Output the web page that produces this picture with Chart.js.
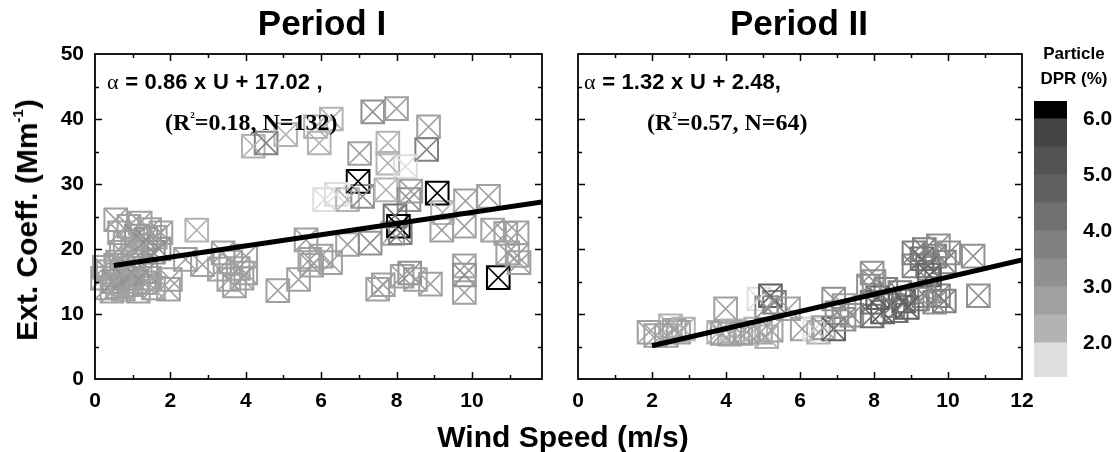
<!DOCTYPE html>
<html><head><meta charset="utf-8">
<script src="https://cdn.jsdelivr.net/npm/chart.js@4.4.0/dist/chart.umd.min.js"></script>
<style>
body{margin:0;background:#fff;}
#wrap{position:relative;width:1117px;height:452px;overflow:hidden;font-family:'Liberation Sans',Arial,sans-serif;color:#000;background:#fff}
.box{position:absolute}
.t{position:absolute;white-space:nowrap;font-weight:bold;line-height:1}
.c{transform:translate(-50%,-50%)}
.l{transform:translate(0,-50%)}
.serif{font-family:'Liberation Serif','Times New Roman',serif}
sup{font-size:9px;vertical-align:top;position:relative;top:1px}
</style></head><body><div id="wrap">
<div class="box" style="left:0;top:0;width:560px;height:452px"><canvas id="p1"></canvas></div>
<div class="box" style="left:560px;top:0;width:480px;height:452px"><canvas id="p2"></canvas></div>
<div class="box" style="left:1020px;top:0;width:97px;height:452px"><canvas id="cb"></canvas></div>

<div class="t c" style="left:322px;top:22px;font-size:35px">Period I</div>
<div class="t c" style="left:799px;top:22px;font-size:35px">Period II</div>
<div class="t" style="left:27px;top:220px;font-size:30px;transform:translate(-50%,-50%) rotate(-90deg)">Ext. Coeff. (Mm<sup style="font-size:15px;top:-2px">-1</sup>)</div>
<div class="t c" style="left:563px;top:437px;font-size:30px">Wind Speed (m/s)</div>

<div class="t l" style="left:107px;top:82px;font-size:22px;word-spacing:0.5px"><span class="serif" style="font-weight:normal">α</span> = 0.86 x U + 17.02 ,</div>
<div class="t l serif" style="left:165px;top:122px;font-size:24px">(R<sup>2</sup>=0.18, N=132)</div>
<div class="t l" style="left:584px;top:82px;font-size:22px;word-spacing:0.5px"><span class="serif" style="font-weight:normal">α</span> = 1.32 x U + 2.48,</div>
<div class="t l serif" style="left:647px;top:122px;font-size:24px">(R<sup>2</sup>=0.57, N=64)</div>

<div class="t c" style="left:1074px;top:53px;font-size:17px">Particle</div>
<div class="t c" style="left:1074px;top:78px;font-size:17px">DPR (%)</div>
</div>
<script>
// ---------- data ----------
const windI = [0.2,0.3,0.35,0.45,0.5,0.55,0.6,0.7,0.75,0.8,0.9,0.95,1.0,1.1,1.15,1.2,1.3,1.35,1.45,1.55,0.25,0.6,
  0.55,0.65,0.8,0.9,1.0,1.1,1.2,1.25,1.35,1.45,1.55,1.6,1.7,1.75,0.7,1.05,
  2.0,1.95,2.4,2.7,2.85,3.3,3.4,3.55,3.7,3.8,3.9,4.0,4.0,3.6,
  4.85,5.4,5.6,5.7,5.75,6.0,6.25,6.7,7.3,7.5,7.65,7.9,8.15,8.35,8.5,8.9,9.2,9.8,9.8,9.8,10.55,10.9,10.7,10.95,11.25,11.2,
  4.2,4.54,5.06,5.85,6.27,5.95,7.37,8.0,7.02,7.77,8.85,8.8,7.77,8.24,6.98,9.08,6.09,6.4,6.7,7.1,7.72,8.38,8.33,9.83,10.44,9.22,7.96,8.05,8.1,9.8,11.2];
const extI = [15.5,14.0,16.5,13.5,15.0,17.5,14.2,16.0,13.8,15.5,17.0,14.5,16.2,15.0,13.5,17.5,14.8,16.5,15.5,14.0,17.2,18.0,
  24.5,22.5,21.0,23.5,20.0,22.0,24.0,20.5,21.5,23.0,19.5,21.8,20.0,22.5,19.5,18.5,
  15.3,13.8,18.4,22.9,17.6,16.9,19.4,15.3,14.3,17.0,15.5,18.9,16.3,18.0,
  13.6,15.3,21.4,18.4,17.5,18.9,17.9,20.7,20.9,13.8,14.5,22.4,15.8,16.3,15.3,14.6,22.9,17.4,16.0,13.3,22.9,22.4,15.6,19.4,17.9,19.0,
  35.8,36.3,37.6,38.8,40.0,36.3,41.1,41.6,34.7,36.3,38.8,35.3,33.2,32.7,30.4,28.6,27.6,28.4,27.6,28.1,29.1,28.9,27.6,27.4,28.1,25.6,25.1,23.5,22.5,23.5,22.5];
const dprI = [2.8,2.7,2.9,2.6,3.0,2.8,2.7,2.9,2.6,3.1,2.8,2.7,3.0,2.8,2.6,2.9,2.7,3.0,2.8,2.6,2.7,2.8,
  2.6,2.7,2.8,2.6,2.9,3.0,2.7,2.9,3.1,2.8,3.2,2.9,3.0,2.8,2.8,2.9,
  2.7,2.6,2.7,2.4,2.6,2.7,2.6,2.6,2.5,2.6,2.8,2.7,2.9,2.5,
  2.7,2.6,2.6,2.7,2.8,2.6,2.7,2.8,3.0,2.7,2.8,2.6,2.7,3.0,2.8,2.6,2.6,2.8,3.1,2.7,2.5,2.6,6.2,2.7,2.8,2.6,
  2.3,3.8,2.4,2.2,2.0,2.4,3.3,2.5,2.6,2.3,2.5,3.6,2.2,1.8,6.2,6.2,1.7,1.9,2.4,3.3,2.2,2.6,3.0,2.6,2.5,2.4,4.0,6.0,3.5,2.5,2.5];

const windII = [1.92,2.1,2.39,2.5,2.6,2.72,2.85,
  3.8,3.99,4.1,4.18,4.4,4.56,4.8,4.93,5.1,5.22,
  4.89,5.2,5.31,5.1,5.69,
  6.06,6.4,6.5,6.63,6.91,6.91,7.19,7.19,7.0,7.4,
  7.95,7.85,7.95,7.95,8.23,8.51,8.7,8.32,8.1,8.6,8.0,8.8,
  9.08,9.36,9.64,9.45,9.08,9.74,10.02,10.68,9.36,9.64,9.17,9.74,10.82,9.5,9.9,9.3,
  9.5,9.9,8.9,3.9];
const extII = [7.2,6.7,6.7,8.2,7.5,7.2,7.7,
  7.2,10.8,6.9,7.4,7.0,7.2,7.7,7.2,6.5,7.5,
  12.3,12.8,11.8,11.0,10.8,
  7.7,7.7,7.2,7.9,7.7,12.3,11.3,9.2,10.2,9.8,
  16.3,14.3,11.8,9.7,10.3,11.3,13.3,13.8,12.5,10.5,15.0,12.0,
  19.4,19.9,18.9,17.4,17.4,20.5,19.4,18.9,12.8,11.8,12.3,12.8,12.8,13.5,18.0,18.5,
  16.0,12.0,11.0,7.0];
const dprII = [2.6,2.8,2.5,2.4,2.7,2.6,2.4,
  2.4,2.5,2.6,2.3,2.7,2.5,2.4,2.8,2.3,2.5,
  1.8,4.6,3.6,3.2,2.9,
  2.7,1.9,2.2,2.6,4.5,3.0,2.9,3.2,3.0,3.3,
  3.1,3.3,4.2,4.4,4.8,3.9,3.6,3.8,4.6,4.2,3.4,4.5,
  3.6,3.8,3.9,4.0,3.5,3.3,3.4,3.3,3.6,3.4,3.7,3.5,3.1,3.2,3.6,4.2,
  4.6,3.8,4.7,2.5];

// regression lines (endpoints on the printed fit)
const fitI = [[0.5,17.45],[11.86,27.22]];
const fitII = [[2.0,5.12],[12,18.32]];

// axis extents and ticks
const xMaxI = 11.86, xMaxII = 12;
const xMajorTicks = [0,2,4,6,8,10,12];
const xMinorTicks = [1,3,5,7,9,11];
const yMajorTicks = [0,10,20,30,40,50];
const yMinorTicks = [5,15,25,35,45];

// colour bar (Particle DPR %)
const cbLow  = [1.39,2.0,2.5,3.0,3.5,4.0,4.5,5.0,5.5,6.0];
const cbHigh = [2.0,2.5,3.0,3.5,4.0,4.5,5.0,5.5,6.0,6.32];
const cbColors = ['#dedede','#b3b3b3','#a0a0a0','#909090','#808080','#707070','#606060','#525252','#444444','#000000'];
const cbTicks = [2,3,4,5,6];

// ---------- helpers ----------
function colorFor(d){
  for(let i=0;i<cbLow.length;i++){ if(d>=cbLow[i] && d<cbHigh[i]) return cbColors[i]; }
  return d<cbLow[0]?cbColors[0]:cbColors[cbColors.length-1];
}
const FONT = "'Liberation Sans', Arial, sans-serif";

const frame = {
  id:'frame',
  afterDatasetsDraw(chart){
    const {ctx, chartArea:{left,right,top,bottom}, scales:{x,y}} = chart;
    ctx.save();
    ctx.strokeStyle='#000'; ctx.lineWidth=1.5; ctx.lineCap='butt';
    ctx.beginPath();
    const xt = xMajorTicks.map(v=>[v,7]).concat(xMinorTicks.map(v=>[v,4]));
    xt.forEach(([v,len])=>{
      if(v>x.max) return;
      const px = Math.round(x.getPixelForValue(v))+0.5;
      if(px<=left+1||px>=right-1) return;
      ctx.moveTo(px,bottom); ctx.lineTo(px,bottom-len);
      ctx.moveTo(px,top); ctx.lineTo(px,top+len);
    });
    const yt = yMajorTicks.map(v=>[v,7]).concat(yMinorTicks.map(v=>[v,4]));
    yt.forEach(([v,len])=>{
      const py = Math.round(y.getPixelForValue(v))+0.5;
      if(py<=top+1||py>=bottom-1) return;
      ctx.moveTo(left,py); ctx.lineTo(left+len,py);
      ctx.moveTo(right,py); ctx.lineTo(right-len,py);
    });
    ctx.stroke();
    ctx.lineWidth=1.8;
    ctx.strokeRect(left,top,right-left,bottom-top);
    ctx.restore();
  }
};

function panel(id, wind, ext, dpr, fit, xMax, isLeft){
  const pts = wind.map((u,i)=>({x:u,y:ext[i]}));
  const col = c=>colorFor(dpr[c.dataIndex]);
  new Chart(document.getElementById(id),{
    type:'scatter',
    data:{datasets:[
      {data:fit.map(p=>({x:p[0],y:p[1]})), showLine:true, borderColor:'#000', borderWidth:5, pointRadius:0, order:0},
      {data:pts, pointStyle:'crossRot', pointRadius:16, pointBorderColor:col, pointBackgroundColor:'rgba(0,0,0,0)', pointBorderWidth:1.6, clip:false, order:1},
      {data:pts, pointStyle:'rect', pointRadius:16, pointBorderColor:col, pointBackgroundColor:'rgba(0,0,0,0)', pointBorderWidth:2, clip:false, order:2}
    ]},
    options:{
      responsive:true, maintainAspectRatio:false, animation:false, events:[],
      layout:{padding:{top:54,bottom:0,left:0,right:isLeft?11:15}},
      plugins:{legend:{display:false},tooltip:{enabled:false}},
      scales:{
        x:{type:'linear',min:0,max:xMax,
          afterBuildTicks:s=>{s.ticks=xMajorTicks.filter(v=>v<=xMax).map(v=>({value:v}));},
          afterFit:s=>{s.height=73; s.paddingLeft=0; s.paddingRight=0;},
          grid:{display:false},border:{display:false},
          ticks:{autoSkip:false,maxRotation:0,padding:2,color:'#000',
            font:{family:FONT,size:21,weight:'bold'}}},
        y:{type:'linear',min:0,max:50,
          afterBuildTicks:s=>{s.ticks=yMajorTicks.map(v=>({value:v}));},
          afterFit:s=>{s.width=isLeft?95:12; s.paddingTop=0; s.paddingBottom=0;},
          grid:{display:false},border:{display:false},
          ticks:{display:isLeft,padding:3,color:'#000',
            font:{family:FONT,size:21,weight:'bold'}}}
      }
    },
    plugins:[frame]
  });
}
panel('p1',windI,extI,dprI,fitI,xMaxI,true);
panel('p2',windII,extII,dprII,fitII,xMaxII,false);

new Chart(document.getElementById('cb'),{
  type:'bar',
  data:{labels:['DPR'],datasets:cbLow.map((lo,i)=>({data:[[lo,cbHigh[i]]],backgroundColor:cbColors[i],
    borderWidth:0,barPercentage:1,categoryPercentage:1,grouped:false}))},
  options:{
    responsive:true,maintainAspectRatio:false,animation:false,events:[],
    layout:{padding:{left:14,top:101,bottom:75,right:0}},
    plugins:{legend:{display:false},tooltip:{enabled:false}},
    scales:{
      x:{display:false},
      y:{position:'right',min:1.39,max:6.32,
        afterBuildTicks:s=>{s.ticks=cbTicks.map(v=>({value:v}));},
        afterFit:s=>{s.width=50; s.paddingTop=0; s.paddingBottom=0;},
        grid:{display:false,drawTicks:false},border:{display:false},
        ticks:{padding:16,color:'#000',font:{family:FONT,size:21,weight:'bold'},callback:v=>Number(v).toFixed(1)}}
    }
  }
});
</script></body></html>
